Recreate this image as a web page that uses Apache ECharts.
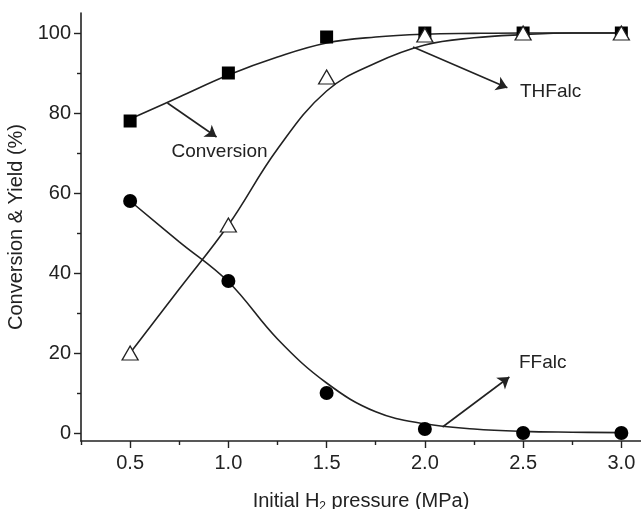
<!DOCTYPE html>
<html>
<head>
<meta charset="utf-8">
<style>
  html, body { margin: 0; padding: 0; background: #fff; }
  #chart { width: 641px; height: 509px; }
</style>
<script src="https://cdn.jsdelivr.net/npm/echarts@6/dist/echarts.min.js"></script>
</head>
<body>
<div id="chart"></div>
<script>
// axis ticks
const xTicks = [0.5, 1.0, 1.5, 2.0, 2.5, 3.0];
const xMinorTicks = [0.25, 0.75, 1.25, 1.75, 2.25, 2.75];
const yTicks = [0, 20, 40, 60, 80, 100];
const yMinorTicks = [10, 30, 50, 70, 90];

// measured points
const pressure = [0.5, 1.0, 1.5, 2.0, 2.5, 3.0];
const conversion = [78, 90, 99, 100, 100, 100];
const thfalc = [20, 52, 89, 99.5, 100, 100];
const ffalc = [58, 38, 10, 1, 0, 0];

// fitted curves
const fitX = [0.5, 0.75, 1.0, 1.25, 1.5, 1.75, 2.0, 2.25, 2.5, 2.75, 3.0];
const conversionFit = [78.5, 84, 89.5, 94, 97.5, 99, 99.7, 99.9, 100, 100, 100];
const thfalcFit = [20, 36, 52, 71, 85.5, 92.5, 97, 98.8, 99.6, 100, 100];
const ffalcFit = [58, 47.8, 37.8, 23.5, 12.5, 5.3, 2.3, 1, 0.4, 0.2, 0.1];

// annotations (data units)
const noteNames = ["Conversion", "THFalc", "FFalc"];
const notePos = [[0.955, 70.3], [2.64, 85.3], [2.6, 17.5]];
const arrows = [
  [[0.69, 82.5], [0.94, 74]],
  [[1.94, 96.5], [2.42, 86.3]],
  [[2.09, 1.5], [2.43, 14]]
];

function pairs(xs, ys) {
  return xs.map(function(x, i) {
    return [x, ys[i]];
  });
}

const ink = "#222";
const font = "Liberation Sans, Arial, sans-serif";

function curve(name, ys) {
  return {
    name: name,
    type: "line",
    data: pairs(fitX, ys),
    smooth: 0.4,
    symbol: "none",
    lineStyle: { color: ink, width: 1.6 },
    z: 2
  };
}

function points(name, ys, symbol, size, style, z) {
  return {
    name: name,
    type: "scatter",
    data: pairs(pressure, ys),
    symbol: symbol,
    symbolSize: size,
    itemStyle: Object.assign({ opacity: 1 }, style),
    z: z
  };
}

let chart = echarts.init(document.getElementById("chart"), null, { renderer: "canvas" });

let option = {
  animation: false,
  backgroundColor: "#fff",
  textStyle: { fontFamily: font },
  grid: { left: 81, right: 0, top: 13, bottom: 68, containLabel: false, outerBoundsMode: "none" },
  xAxis: [
    {
      type: "value",
      min: 0.25,
      max: 3.1,
      name: "Initial H{sub|2} pressure (MPa)",
      nameLocation: "middle",
      nameGap: 49,
      nameTextStyle: {
        fontSize: 20,
        color: ink,
        fontFamily: font,
        rich: {
          sub: { fontSize: 12, color: ink, padding: [11, 0, 0, 0] }
        }
      },
      axisLine: { onZero: false, lineStyle: { color: ink, width: 1.6 } },
      axisTick: { customValues: xTicks, length: 7, lineStyle: { color: ink, width: 1.4 } },
      axisLabel: { customValues: xTicks, fontSize: 20, color: ink, margin: 12,
        formatter: function(v) { return v.toFixed(1); } },
      splitLine: { show: false }
    },
    {
      type: "value",
      min: 0.25,
      max: 3.1,
      position: "bottom",
      axisLine: { show: false, onZero: false },
      axisTick: { customValues: xMinorTicks, length: 4, lineStyle: { color: ink, width: 1.4 } },
      axisLabel: { show: false },
      splitLine: { show: false }
    }
  ],
  yAxis: [
    {
      type: "value",
      min: -2,
      max: 105,
      name: "Conversion & Yield (%)",
      nameLocation: "middle",
      nameGap: 50,
      nameTextStyle: { fontSize: 20, color: ink, fontFamily: font },
      axisLine: { onZero: false, lineStyle: { color: ink, width: 1.6 } },
      axisTick: { customValues: yTicks, length: 7, lineStyle: { color: ink, width: 1.4 } },
      axisLabel: { customValues: yTicks, fontSize: 20, color: ink, margin: 10 },
      splitLine: { show: false }
    },
    {
      type: "value",
      min: -2,
      max: 105,
      position: "left",
      axisLine: { show: false, onZero: false },
      axisTick: { customValues: yMinorTicks, length: 4, lineStyle: { color: ink, width: 1.4 } },
      axisLabel: { show: false },
      splitLine: { show: false }
    }
  ],
  series: [
    curve("Conversion fit", conversionFit),
    curve("THFalc fit", thfalcFit),
    curve("FFalc fit", ffalcFit),
    points("Conversion", conversion, "rect", 13, { color: "#000" }, 3),
    points("FFalc", ffalc, "circle", 14, { color: "#000" }, 3),
    points("THFalc", thfalc, "triangle", [16, 14],
      { color: "#fff", borderColor: ink, borderWidth: 1.3 }, 4),
    {
      name: "notes",
      type: "scatter",
      symbolSize: 0,
      silent: true,
      z: 5,
      itemStyle: { opacity: 1 },
      data: notePos.map(function(p, i) {
        return { name: noteNames[i], value: p };
      }),
      label: {
        show: true,
        position: "inside",
        formatter: "{b}",
        fontSize: 19,
        color: ink,
        fontFamily: font
      },
      markLine: {
        silent: true,
        animation: false,
        symbolSize: 11,
        label: { show: false },
        lineStyle: { color: ink, width: 1.6, type: "solid", opacity: 1 },
        data: arrows.map(function(a) {
          return [
            { coord: a[0], symbol: "none" },
            { coord: a[1], symbol: "arrow" }
          ];
        })
      }
    }
  ]
};

chart.setOption(option);
</script>
</body>
</html>
